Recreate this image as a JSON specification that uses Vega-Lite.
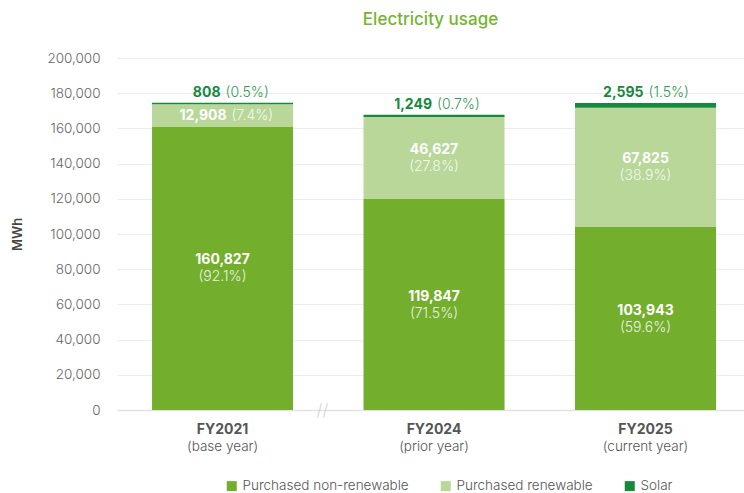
{
  "$schema": "https://vega.github.io/schema/vega-lite/v6.json",
  "width": 627,
  "height": 352,
  "autosize": "none",
  "padding": {"left": 117, "top": 58, "right": 0, "bottom": 83},
  "background": "white",
  "config": {
    "font": "Inter",
    "view": {"stroke": null},
    "axisY": {
      "tickCount": 10,
      "labelOverlap": false,
      "format": ",d",
      "labelFontSize": 13.5,
      "labelFontWeight": 300,
      "labelColor": "#666666",
      "labelPadding": 17,
      "ticks": false,
      "domain": false,
      "grid": true,
      "gridColor": "#ececec",
      "gridWidth": 1,
      "titleFontSize": 13,
      "titleFontWeight": 600,
      "titleColor": "#444444",
      "titlePadding": 22
    }
  },
  "title": {
    "text": "Electricity usage",
    "color": "#74b52f",
    "fontSize": 17,
    "fontWeight": 500,
    "anchor": "middle",
    "offset": 22
  },
  "data": {
    "values": [
      {"year": "FY2021", "sub": "(base year)", "category": "Purchased non-renewable", "ord": 1, "value": 160827, "pct": 92.1},
      {"year": "FY2021", "sub": "(base year)", "category": "Purchased renewable", "ord": 2, "value": 12908, "pct": 7.4},
      {"year": "FY2021", "sub": "(base year)", "category": "Solar", "ord": 3, "value": 808, "pct": 0.5},
      {"year": "FY2024", "sub": "(prior year)", "category": "Purchased non-renewable", "ord": 1, "value": 119847, "pct": 71.5},
      {"year": "FY2024", "sub": "(prior year)", "category": "Purchased renewable", "ord": 2, "value": 46627, "pct": 27.8},
      {"year": "FY2024", "sub": "(prior year)", "category": "Solar", "ord": 3, "value": 1249, "pct": 0.7},
      {"year": "FY2025", "sub": "(current year)", "category": "Purchased non-renewable", "ord": 1, "value": 103943, "pct": 59.6},
      {"year": "FY2025", "sub": "(current year)", "category": "Purchased renewable", "ord": 2, "value": 67825, "pct": 38.9},
      {"year": "FY2025", "sub": "(current year)", "category": "Solar", "ord": 3, "value": 2595, "pct": 1.5}
    ]
  },
  "transform": [
    {"stack": "value", "groupby": ["year"], "sort": [{"field": "ord"}], "as": ["y0", "y1"]},
    {"calculate": "(datum.y0 + datum.y1) / 2", "as": "ymid"},
    {"calculate": "format(datum.value, ',d')", "as": "vlabel"},
    {"calculate": "'(' + format(datum.pct, '.1f') + '%)'", "as": "plabel"}
  ],
  "encoding": {
    "x": {
      "field": "year",
      "type": "nominal",
      "sort": null,
      "scale": {"paddingInner": 0.3333, "paddingOuter": 0.149, "align": 0.556},
      "axis": {
        "title": null,
        "labelAngle": 0,
        "labelFontSize": 14,
        "labelFontWeight": "bold",
        "labelColor": "#555555",
        "labelPadding": 12,
        "ticks": false,
        "domainColor": "#e3e3e3",
        "domainWidth": 1.5,
        "grid": false
      }
    }
  },
  "layer": [
    {
      "mark": {"type": "bar"},
      "encoding": {
        "y": {
          "field": "y0",
          "type": "quantitative",
          "scale": {"domain": [0, 200000]},
          "axis": {"title": "MWh"}
        },
        "y2": {"field": "y1"},
        "color": {
          "field": "category",
          "type": "nominal",
          "scale": {
            "domain": ["Purchased non-renewable", "Purchased renewable", "Solar"],
            "range": ["#73ae2c", "#b8d799", "#17893d"]
          },
          "legend": {
            "title": null,
            "orient": "none",
            "legendX": 108,
            "legendY": 421,
            "direction": "horizontal",
            "symbolType": "square",
            "symbolSize": 100,
            "symbolStrokeWidth": 0,
            "labelFontSize": 13.5,
            "labelFontWeight": 300,
            "labelColor": "#555555",
            "labelLimit": 0,
            "columnPadding": 30
          }
        }
      }
    },
    {
      "transform": [{"filter": "datum.category != 'Solar' && !(datum.year == 'FY2021' && datum.category == 'Purchased renewable')"}],
      "mark": {"type": "text", "color": "white", "fontSize": 14, "fontWeight": "bold", "dy": -8, "baseline": "middle"},
      "encoding": {"y": {"field": "ymid", "type": "quantitative"}, "text": {"field": "vlabel"}}
    },
    {
      "transform": [{"filter": "datum.category != 'Solar' && !(datum.year == 'FY2021' && datum.category == 'Purchased renewable')"}],
      "mark": {"type": "text", "color": "white", "opacity": 0.85, "fontSize": 14, "fontWeight": 300, "dy": 9, "baseline": "middle"},
      "encoding": {"y": {"field": "ymid", "type": "quantitative"}, "text": {"field": "plabel"}}
    },
    {
      "transform": [{"filter": "datum.year == 'FY2021' && datum.category == 'Purchased renewable'"}],
      "mark": {"type": "text", "color": "white", "fontSize": 14, "fontWeight": "bold", "align": "right", "dx": 4, "baseline": "middle"},
      "encoding": {"y": {"field": "ymid", "type": "quantitative"}, "text": {"field": "vlabel"}}
    },
    {
      "transform": [{"filter": "datum.year == 'FY2021' && datum.category == 'Purchased renewable'"}],
      "mark": {"type": "text", "color": "white", "opacity": 0.85, "fontSize": 14, "fontWeight": 300, "align": "left", "dx": 9, "baseline": "middle"},
      "encoding": {"y": {"field": "ymid", "type": "quantitative"}, "text": {"field": "plabel"}}
    },
    {
      "transform": [{"filter": "datum.category == 'Solar'"}],
      "mark": {"type": "text", "color": "#17893d", "fontSize": 14, "fontWeight": "bold", "align": "right", "dx": -2, "dy": -10, "baseline": "middle"},
      "encoding": {"y": {"field": "y1", "type": "quantitative"}, "text": {"field": "vlabel"}}
    },
    {
      "transform": [{"filter": "datum.category == 'Solar'"}],
      "mark": {"type": "text", "color": "#2f9a4f", "fontSize": 14, "fontWeight": 300, "align": "left", "dx": 3, "dy": -10, "baseline": "middle"},
      "encoding": {"y": {"field": "y1", "type": "quantitative"}, "text": {"field": "plabel"}}
    },
    {
      "transform": [{"filter": "datum.category == 'Solar'"}],
      "mark": {"type": "text", "color": "#555555", "fontSize": 13.5, "fontWeight": 300, "dy": 37, "baseline": "middle"},
      "encoding": {"y": {"datum": 0, "type": "quantitative"}, "text": {"field": "sub"}}
    },
    {
      "transform": [{"filter": "datum.year == 'FY2021' && datum.category == 'Solar'"}],
      "mark": {"type": "text", "color": "#d6d6d6", "fontSize": 17, "fontWeight": 300, "dx": 100, "dy": 1, "baseline": "middle", "text": "//"},
      "encoding": {"y": {"datum": 0, "type": "quantitative"}}
    }
  ]
}
